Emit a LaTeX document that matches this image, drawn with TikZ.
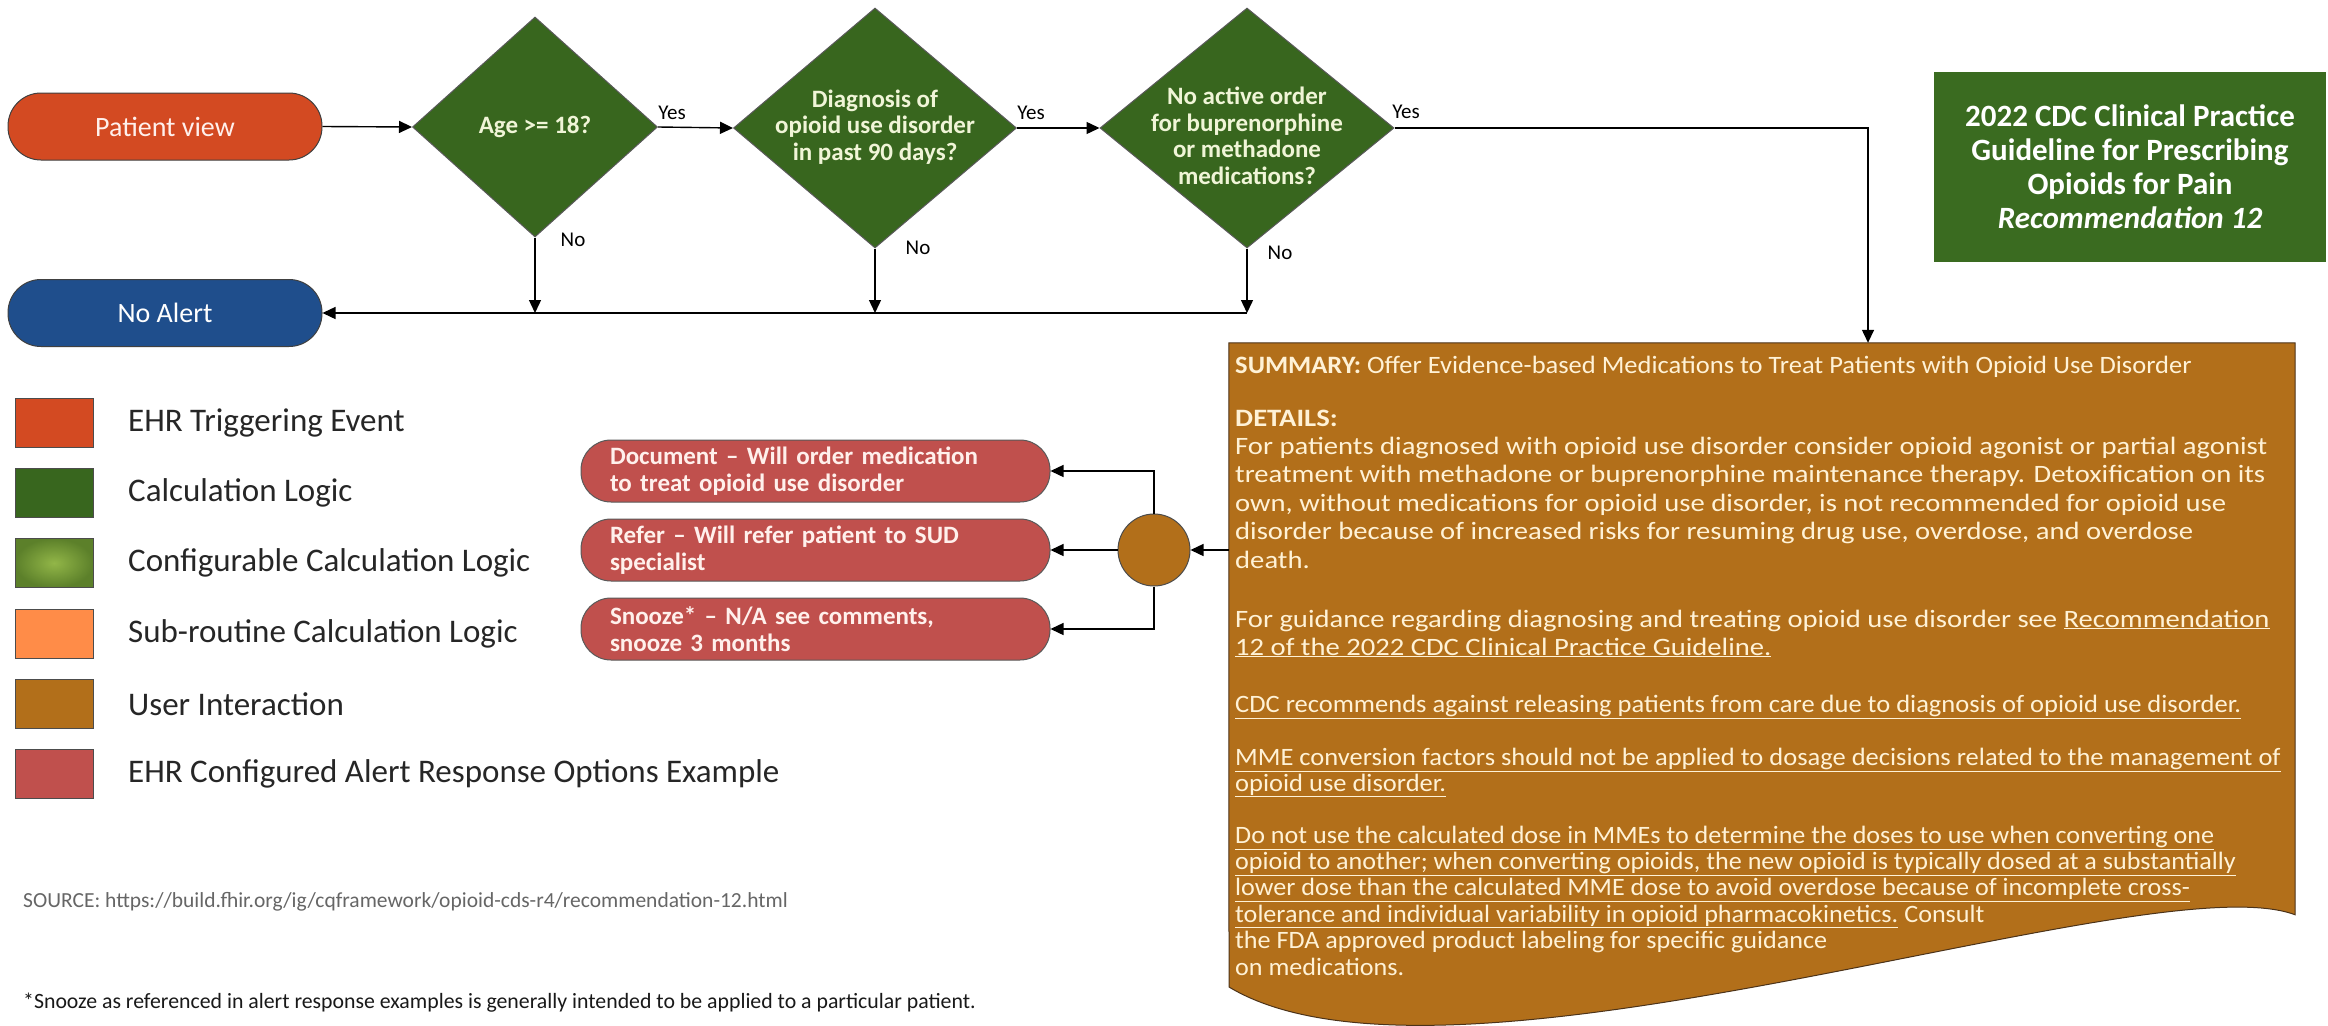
\documentclass[tikz,border=0pt]{standalone}
\usepackage{fontspec}
\setmainfont{Carlito}
\newfontfamily\uiA[FakeStretch=1.06]{Carlito}
\newfontfamily\uiB[FakeStretch=1.145]{Carlito}
\newfontfamily\uiC[FakeStretch=1.045]{Carlito}
\usetikzlibrary{arrows.meta,shapes.geometric}
\definecolor{trig}{RGB}{211,74,34}
\definecolor{calc}{RGB}{56,102,30}
\definecolor{noal}{RGB}{31,78,140}
\definecolor{ttl}{RGB}{58,107,32}
\definecolor{usr}{RGB}{178,111,26}
\definecolor{resp}{RGB}{192,80,77}
\definecolor{subr}{RGB}{255,140,72}
\definecolor{cfgin}{RGB}{146,182,72}
\definecolor{cfgout}{RGB}{92,128,42}
\definecolor{cream}{RGB}{255,242,214}
\definecolor{pale}{RGB}{240,245,215}
\definecolor{pinkw}{RGB}{255,240,236}
\newcommand{\lnk}[1]{\underline{#1}}
\begin{document}
\begin{tikzpicture}[x=1pt,y=-1pt,
  pill/.style={rectangle, rounded corners=33pt, draw=black!75, line width=1pt, inner sep=0pt,
    minimum width=314pt, minimum height=67pt, text=pinkw, font=\fontsize{28}{30}\selectfont},
  dia/.style={diamond, fill=calc, draw=black!65, line width=1pt, inner sep=0pt},
  dtext/.style={align=center, text=pale, inner sep=0pt, font=\bfseries\fontsize{25}{26.5}\selectfont},
  lbl/.style={inner sep=0pt, font=\fontsize{21}{22}\selectfont},
  arr/.style={draw=black, line width=1.4pt, -{Triangle[length=13pt,width=12pt]}},
  leg/.style={rectangle, draw=black!70, line width=1pt, minimum width=78pt, minimum height=49pt, inner sep=0pt},
  legt/.style={anchor=west, inner sep=0pt, text=black!85, font=\fontsize{33}{36}\selectfont},
  rpill/.style={rectangle, rounded corners=30pt, fill=resp, draw=black!65, line width=1pt, inner sep=0pt,
    minimum width=469pt, minimum height=62pt, text width=411pt, align=left, text=pinkw,
    font=\bfseries\fontsize{25}{27}\selectfont},
  uitext/.style={anchor=north west, align=left, inner sep=0pt, text=cream}
]
\useasboundingbox (0,0) rectangle (2328,1025);
\fill[white] (0,0) rectangle (2328,1025);

% flow top row
\node[pill, fill=trig] (pv) at (165,126.5) {Patient view};
\node[pill, fill=noal, text=white] (na) at (165,313) {No Alert};

\node[dia, minimum width=245pt, minimum height=220pt] (d1) at (535,127) {};
\node[dtext] (d1t) at (535,127) {Age >= 18?};
\node[dia, minimum width=283pt, minimum height=240pt] (d2) at (875,128) {};
\node[dtext] (d2t) at (875,127) {Diagnosis of\\opioid use disorder\\in past 90 days?};
\node[dia, minimum width=294pt, minimum height=240pt] (d3) at (1247,128) {};
\node[dtext] (d3t) at (1247,136) {No active order\\for buprenorphine\\or methadone\\medications?};

\node[lbl] (y1) at (672,113) {Yes};
\node[lbl] (y2) at (1031,113) {Yes};
\node[lbl] (y3) at (1406,112) {Yes};
\node[lbl] (n1) at (573,240) {No};
\node[lbl] (n2) at (918,248) {No};
\node[lbl] (n3) at (1280,253) {No};

% title box
\node[fill=ttl, minimum width=392pt, minimum height=190pt, inner sep=0pt, text=white, align=center,
  font=\bfseries\fontsize{31}{34}\selectfont] (ttl) at (2130,167)
  {2022 CDC Clinical Practice\\Guideline for Prescribing\\Opioids for Pain\\\textit{Recommendation 12}};

% user interaction document shape
\node[minimum width=1066pt, minimum height=682pt, inner sep=0pt] (ui) at (1762,684) {};
\filldraw[fill=usr, draw=black!60!brown, line width=1pt]
  (ui.north west) -- (ui.north east) -- ([yshift=-572pt]ui.north east)
  .. controls (2150,860) and (1450,1120) .. (1229,987) -- cycle;
\coordinate (drop) at (1868,0);

\node[uitext, font=\uiA\fontsize{25}{27.6}\selectfont] (s1) at (1235,355.5) {\textbf{SUMMARY:} Offer Evidence-based Medications to Treat Patients with Opioid Use Disorder};
\node[uitext, font=\uiB\fontsize{25}{28.4}\selectfont] (s2) at (1235,409.5) {\textbf{DETAILS:}\\
For patients diagnosed with opioid use disorder consider opioid agonist or partial agonist\\
treatment with methadone or buprenorphine maintenance therapy. Detoxification on its\\
own, without medications for opioid use disorder, is not recommended for opioid use\\
disorder because of increased risks for resuming drug use, overdose, and overdose\\
death.};
\node[uitext, font=\uiB\fontsize{25}{28}\selectfont] (s3) at (1235,609.5) {For guidance regarding diagnosing and treating opioid use disorder see \lnk{Recommendation}\\
\lnk{12 of the 2022 CDC Clinical Practice Guideline.}};
\node[uitext, font=\uiA\fontsize{25}{27.6}\selectfont] (s4) at (1235,694.5) {\lnk{CDC recommends against releasing patients from care due to diagnosis of opioid use disorder.}};
\node[uitext, font=\uiA\fontsize{25}{26}\selectfont] (s5) at (1235,747.5) {\lnk{MME conversion factors should not be applied to dosage decisions related to the management of}\\
\lnk{opioid use disorder.}};
\node[uitext, font=\uiC\fontsize{25}{26.4}\selectfont] (s6) at (1235,825.5) {\lnk{Do not use the calculated dose in MMEs to determine the doses to use when converting one}\\
\lnk{opioid to another; when converting opioids, the new opioid is typically dosed at a substantially}\\
\lnk{lower dose than the calculated MME dose to avoid overdose because of incomplete cross-}\\
\lnk{tolerance and individual variability in opioid pharmacokinetics.} Consult\\
the FDA approved product labeling for specific guidance\\
on medications.};

% responses
\node[circle, fill=usr, draw=black!70, line width=1pt, minimum size=72pt, inner sep=0pt] (c) at (1154,550) {};
\node[rpill] (r1) at (815.5,471) {Document – Will order medication\\to treat opioid use disorder};
\node[rpill] (r2) at (815.5,550) {Refer – Will refer patient to SUD\\specialist};
\node[rpill] (r3) at (815.5,629) {Snooze* – N/A see comments,\\snooze 3 months};

% legend
\node[leg, fill=trig] (l1) at (54,423) {};
\node[leg, fill=calc] (l2) at (54,493) {};
\node[leg, inner color=cfgin, outer color=cfgout] (l3) at (54,563) {};
\node[leg, fill=subr] (l4) at (54,634) {};
\node[leg, fill=usr] (l5) at (54,704) {};
\node[leg, fill=resp] (l6) at (54,774) {};
\node[legt] (l1t) at (128,423) {EHR Triggering Event};
\node[legt] (l2t) at (128,493) {Calculation Logic};
\node[legt] (l3t) at (128,563) {Configurable Calculation Logic};
\node[legt] (l4t) at (128,634) {Sub-routine Calculation Logic};
\node[legt] (l5t) at (128,704) {User Interaction};
\node[legt] (l6t) at (128,774) {EHR Configured Alert Response Options Example};

\node[anchor=west, inner sep=0pt, text=black!60, font=\fontsize{21.5}{22}\selectfont] (src) at (23,902)
  {SOURCE: https://build.fhir.org/ig/cqframework/opioid-cds-r4/recommendation-12.html};
\node[anchor=west, inner sep=0pt, text=black!90, font=\fontsize{21.8}{22}\selectfont] (fn) at (23,1003)
  {*Snooze as referenced in alert response examples is generally intended to be applied to a particular patient.};

% connectors
\draw[arr] (pv.east) -- (d1.west);
\draw[arr] (d1.east) -- (d2.west);
\draw[arr] (d2.east) -- (d3.west);
\draw[arr] (d3.east) -- (d3.east -| drop) -- (drop |- ui.north);
\draw[arr] (d1.south) -- (d1.south |- na.east);
\draw[arr] (d2.south) -- (d2.south |- na.east);
\draw[arr] (d3.south) -- (d3.south |- na.east);
\draw[arr] (d3.south |- na.east) -- (na.east);
\draw[arr] (ui.west |- c) -- (c.east);
\draw[arr] (c.north) |- (r1.east);
\draw[arr] (c.west) -- (r2.east);
\draw[arr] (c.south) |- (r3.east);
\end{tikzpicture}
\end{document}
